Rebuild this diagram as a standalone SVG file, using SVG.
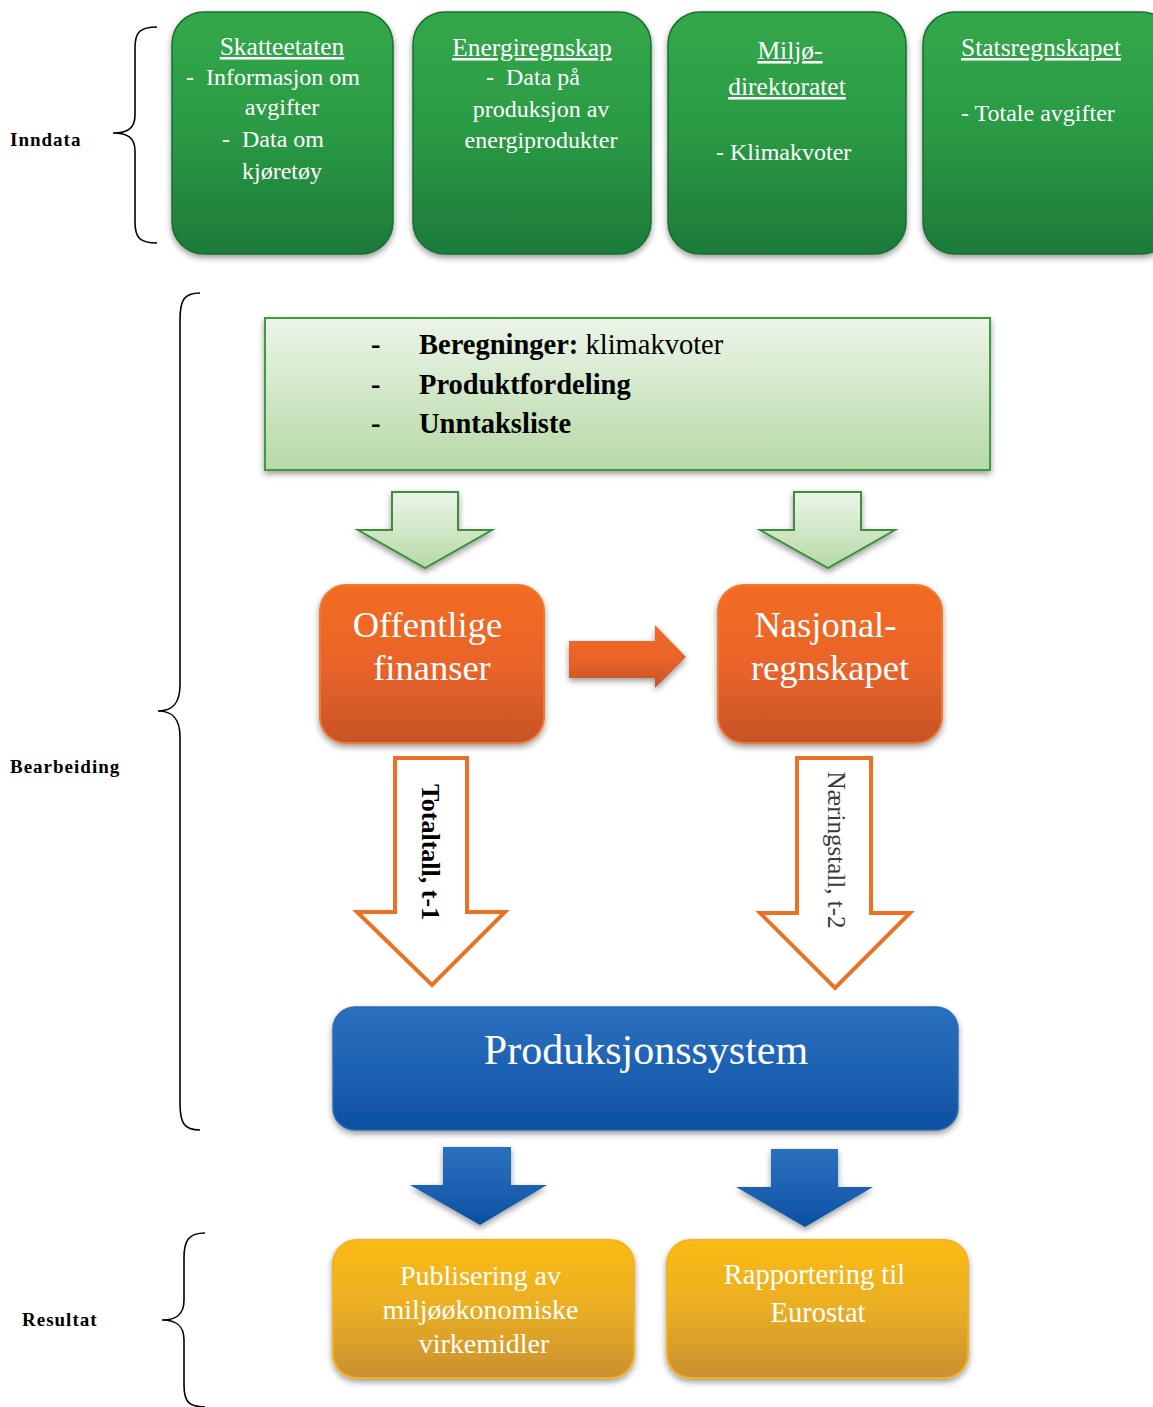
<svg xmlns="http://www.w3.org/2000/svg" width="1153" height="1407" viewBox="0 0 1153 1407">
  <defs>
    <linearGradient id="gGreen" x1="0" y1="0" x2="0" y2="1">
      <stop offset="0" stop-color="#33a84a"/>
      <stop offset="0.5" stop-color="#2a9a44"/>
      <stop offset="1" stop-color="#1d7a3a"/>
    </linearGradient>
    <linearGradient id="gLight" x1="0" y1="0" x2="0" y2="1">
      <stop offset="0" stop-color="#ecf5e8"/>
      <stop offset="1" stop-color="#b6d9a6"/>
    </linearGradient>
    <linearGradient id="gOrange" x1="0" y1="0" x2="0" y2="1">
      <stop offset="0" stop-color="#f36c22"/>
      <stop offset="0.55" stop-color="#e8632a"/>
      <stop offset="1" stop-color="#c65326"/>
    </linearGradient>
    <linearGradient id="gBlue" x1="0" y1="0" x2="0" y2="1">
      <stop offset="0" stop-color="#2a70bd"/>
      <stop offset="0.6" stop-color="#1b5fb0"/>
      <stop offset="1" stop-color="#0b4fa0"/>
    </linearGradient>
    <linearGradient id="gYellow" x1="0" y1="0" x2="0" y2="1">
      <stop offset="0" stop-color="#fbbb14"/>
      <stop offset="0.5" stop-color="#e9ae24"/>
      <stop offset="1" stop-color="#c99031"/>
    </linearGradient>
    <filter id="shadow" x="-10%" y="-10%" width="120%" height="130%">
      <feDropShadow dx="0" dy="3" stdDeviation="3" flood-color="#000" flood-opacity="0.4"/>
    </filter>
    <style>
      .serif { font-family: "Liberation Serif", "Times New Roman", serif; }
      .label { font-family: "Liberation Serif", serif; font-weight: bold; font-size: 19px; letter-spacing: 1px; fill: #000; }
      .src { font-family: "Liberation Serif", serif; font-size: 24px; fill: #fff; }
      .head { text-decoration: underline; font-size: 25.5px; }
      .brace { fill: none; stroke: #000; stroke-width: 1.6; }
      .green { fill: url(#gGreen); stroke: #1a6e33; stroke-width: 1.5; filter: url(#shadow); }
      .white { fill: #fff; }
      .hollowG { fill: url(#gLight); stroke: #3d8f3c; stroke-width: 2; filter: url(#shadow); }
      .hollowO { fill: #fff; stroke: #ed7124; stroke-width: 4; }
    </style>
  </defs>

  <!-- stage labels and braces -->
  <g id="stages">
    <text class="label" x="10" y="146">Inndata</text>
    <text class="label" x="10" y="773">Bearbeiding</text>
    <text class="label" x="22" y="1326">Resultat</text>
    <path class="brace" d="M157,27 C140,27 135,32 135,48 L135,115 C135,128 128,133 113,133 C128,133 135,138 135,151 L135,222 C135,238 140,243 157,243"/>
    <path class="brace" d="M200,293 C184,293 180,300 180,320 L180,685 C180,703 173,711 158,711 C173,711 180,719 180,737 L180,1103 C180,1123 184,1130 200,1130"/>
    <path class="brace" d="M205,1233 C189,1233 184,1240 184,1258 L184,1300 C184,1314 177,1320 162,1320 C177,1320 184,1326 184,1340 L184,1385 C184,1402 189,1407 205,1407"/>
  </g>

  <!-- data sources -->
  <g id="skatteetaten">
    <rect class="green" x="172" y="12" width="221" height="242" rx="32"/>
    <text class="src head" x="282" y="55" text-anchor="middle">Skatteetaten</text>
    <text class="src" x="186" y="85" xml:space="preserve">-  Informasjon om</text>
    <text class="src" x="282" y="115" text-anchor="middle">avgifter</text>
    <text class="src" x="222" y="147" xml:space="preserve">-  Data om</text>
    <text class="src" x="282" y="179" text-anchor="middle">kjøretøy</text>
  </g>
  <g id="energiregnskap">
    <rect class="green" x="413" y="12" width="238" height="242" rx="32"/>
    <text class="src head" x="532" y="56" text-anchor="middle">Energiregnskap</text>
    <text class="src" x="486" y="85" xml:space="preserve">-  Data på</text>
    <text class="src" x="541" y="117" text-anchor="middle">produksjon av</text>
    <text class="src" x="541" y="148" text-anchor="middle">energiprodukter</text>
  </g>
  <g id="miljodirektoratet">
    <rect class="green" x="668" y="12" width="238" height="242" rx="32"/>
    <text class="src head" x="790" y="59" text-anchor="middle">Miljø-</text>
    <text class="src head" x="787" y="95" text-anchor="middle">direktoratet</text>
    <text class="src" x="716" y="160" font-size="24.5">- Klimakvoter</text>
  </g>
  <g id="statsregnskapet">
    <rect class="green" x="923" y="12" width="250" height="242" rx="32"/>
    <text class="src head" x="1041" y="56" text-anchor="middle">Statsregnskapet</text>
    <text class="src" x="961" y="121" font-size="24.5">- Totale avgifter</text>
  </g>

  <!-- processing -->
  <g id="beregninger">
    <rect x="265" y="318" width="725" height="152" fill="url(#gLight)" stroke="#3f9a3f" stroke-width="2" filter="url(#shadow)"/>
    <g class="serif" font-size="28.5" font-weight="bold" fill="#000">
      <text x="371" y="354">-</text>
      <text x="371" y="394">-</text>
      <text x="371" y="433">-</text>
      <text x="419" y="354">Beregninger:<tspan font-weight="normal"> klimakvoter</tspan></text>
      <text x="419" y="394">Produktfordeling</text>
      <text x="419" y="433">Unntaksliste</text>
    </g>
  </g>

  <g id="offentlige-finanser">
    <rect x="320" y="585" width="224" height="158" rx="26" fill="url(#gOrange)" stroke="#ee7a33" stroke-width="2" filter="url(#shadow)"/>
    <text class="serif white" font-size="36.5" text-anchor="middle">
      <tspan x="432" y="637">Offentlige</tspan>
      <tspan x="432" y="680">finanser</tspan>
    </text>
  </g>
  <g id="nasjonalregnskapet">
    <rect x="718" y="585" width="224" height="158" rx="26" fill="url(#gOrange)" stroke="#ee7a33" stroke-width="2" filter="url(#shadow)"/>
    <text class="serif white" font-size="36.5" text-anchor="middle">
      <tspan x="830" y="637">Nasjonal-</tspan>
      <tspan x="830" y="680">regnskapet</tspan>
    </text>
  </g>

  <g id="produksjonssystem">
    <rect x="333" y="1007" width="625" height="123" rx="22" fill="url(#gBlue)" stroke="#2b6cb5" stroke-width="1.5" filter="url(#shadow)"/>
    <text class="serif white" font-size="42" x="646" y="1064" text-anchor="middle">Produksjonssystem</text>
  </g>

  <!-- results -->
  <g id="publisering">
    <rect x="333" y="1240" width="301" height="138" rx="24" fill="url(#gYellow)" stroke="#f2b21f" stroke-width="2" filter="url(#shadow)"/>
    <text class="serif white" font-size="28" text-anchor="middle">
      <tspan x="484" y="1285">Publisering av</tspan>
      <tspan x="484" y="1319">miljøøkonomiske</tspan>
      <tspan x="484" y="1353">virkemidler</tspan>
    </text>
  </g>
  <g id="rapportering">
    <rect x="667" y="1240" width="301" height="138" rx="24" fill="url(#gYellow)" stroke="#f2b21f" stroke-width="2" filter="url(#shadow)"/>
    <text class="serif white" font-size="28.5" text-anchor="middle">
      <tspan x="818" y="1284">Rapportering til</tspan>
      <tspan x="818" y="1322">Eurostat</tspan>
    </text>
  </g>

  <!-- connectors -->
  <g id="connectors">
    <polygon class="hollowG" points="392,492 458,492 458,530 492,530 425,568 358,530 392,530"/>
    <polygon class="hollowG" points="794,492 861,492 861,530 895,530 828,568 760,530 794,530"/>

    <polygon points="569,641 655,641 655,625 686,657 655,688 655,678 569,678" fill="url(#gOrange)" filter="url(#shadow)"/>

    <polygon class="hollowO" points="395,758 467,758 467,912 505,912 432,985 357,912 395,912"/>
    <text class="serif" font-size="26" font-weight="bold" fill="#000" text-anchor="middle" dominant-baseline="central" transform="translate(430,852) rotate(90)">Totaltall, t-1</text>

    <polygon class="hollowO" points="797,758 871,758 871,913 910,913 835,988 760,913 797,913"/>
    <text class="serif" font-size="25" fill="#3a3a3a" text-anchor="middle" dominant-baseline="central" transform="translate(836,850) rotate(90)">Næringstall, t-2</text>

    <polygon points="443,1147 511,1147 511,1185 547,1185 480,1225 410,1185 443,1185" fill="url(#gBlue)" filter="url(#shadow)"/>
    <polygon points="771,1149 838,1149 838,1187 873,1187 805,1227 736,1187 771,1187" fill="url(#gBlue)" filter="url(#shadow)"/>
  </g>
</svg>
